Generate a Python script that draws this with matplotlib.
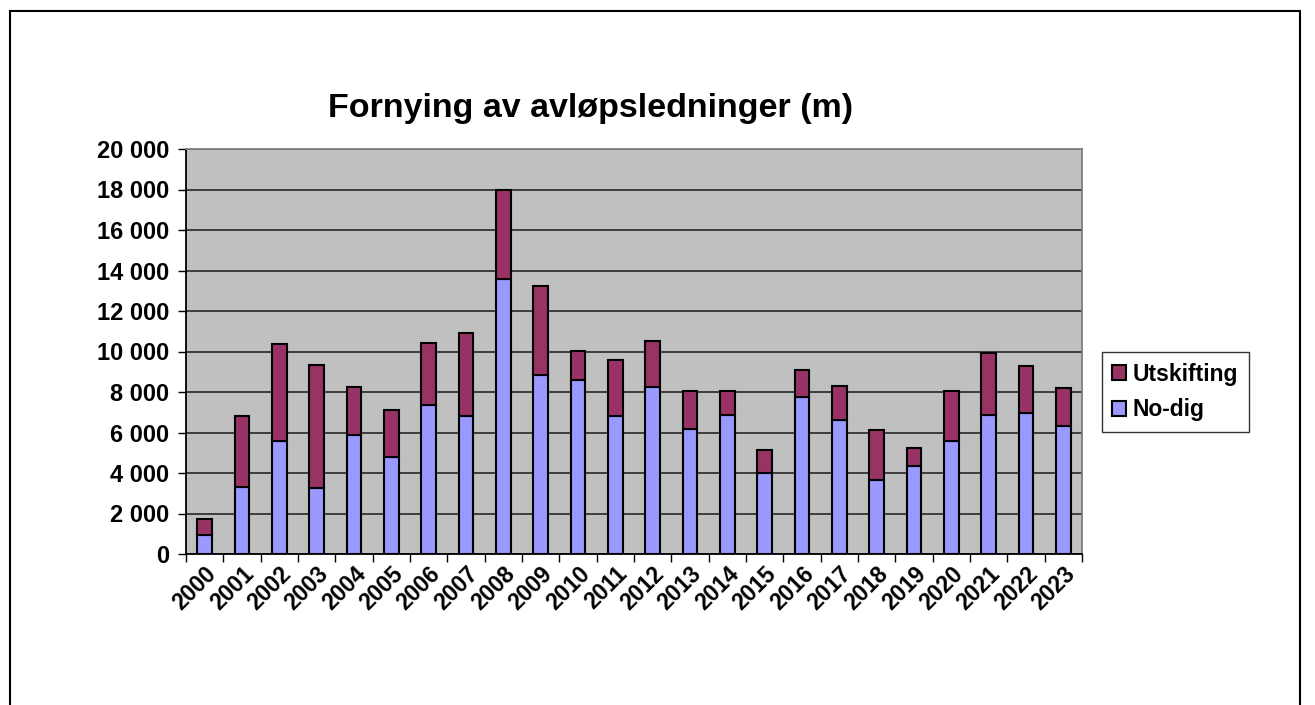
import matplotlib.pyplot as plt
import matplotlib.patches as patches
import numpy as np

# Data (metres)
years = [str(y) for y in range(2000, 2024)]
no_dig = [950, 3330, 5590, 3280, 5890, 4790, 7380, 6800, 13570, 8820, 8600, 6800,
          8250, 6160, 6850, 3980, 7740, 6640, 3640, 4330, 5590, 6850, 6970, 6340]
totals = [1720, 6800, 10390, 9340, 8250, 7100, 10440, 10900, 18000, 13210, 10030, 9570,
          10500, 8030, 8030, 5130, 9070, 8300, 6100, 5250, 8030, 9920, 9260, 8180]
utskifting = [t - n for t, n in zip(totals, no_dig)]

plt.rcParams['font.family'] = ['Liberation Sans', 'DejaVu Sans']

fig = plt.figure(figsize=(13.15, 7.05), dpi=100)
ax = fig.add_axes([186 / 1315, 151 / 705, 896 / 1315, 405 / 705])

x = np.arange(len(years))
ax.bar(x, no_dig, width=0.4, color='#9999FF', edgecolor='black', linewidth=1.5,
       label='No-dig', zorder=3)
ax.bar(x, utskifting, width=0.4, bottom=no_dig, color='#993366', edgecolor='black',
       linewidth=1.5, label='Utskifting', zorder=3)

ax.set_facecolor('#C0C0C0')
ax.set_xlim(-0.5, len(years) - 0.5)
ax.set_ylim(0, 20000)
ax.set_yticks(range(0, 20001, 2000))
ax.set_yticklabels([f'{v:,}'.replace(',', ' ') for v in range(0, 20001, 2000)],
                   fontsize=17, fontweight='bold')
ax.yaxis.grid(True, color='#333333', linewidth=1.3, zorder=1)

# ticks between categories, labels centred under bars
ax.set_xticks(np.arange(-0.5, len(years), 1.0))
ax.set_xticklabels([])
ax.set_xticks(x, minor=True)
ax.set_xticklabels(years, minor=True, rotation=45, ha='right', va='top',
                   rotation_mode='anchor', fontsize=16.5, fontweight='bold')
ax.tick_params(axis='x', which='minor', length=0, pad=6)
ax.tick_params(axis='x', which='major', length=6, width=1, direction='out')
ax.tick_params(axis='y', length=6, width=1, direction='out', pad=6)

for side in ['top', 'right']:
    ax.spines[side].set_color('#808080')
    ax.spines[side].set_linewidth(1.3)
for side in ['left', 'bottom']:
    ax.spines[side].set_color('black')
    ax.spines[side].set_linewidth(1.3)

fig.text(591 / 1315, 1 - 108 / 705, 'Fornying av avløpsledninger (m)',
         ha='center', va='center', fontsize=24.5, fontweight='bold')

handles, labels = ax.get_legend_handles_labels()
leg = fig.legend(handles[::-1], labels[::-1], loc='center left',
                 bbox_to_anchor=(1102 / 1315, 1 - 392 / 705),
                 prop={'size': 16.5, 'weight': 'bold'}, frameon=True, fancybox=False,
                 edgecolor='black', handlelength=0.6, handleheight=0.6,
                 handletextpad=0.3, labelspacing=0.55, borderpad=0.45,
                 borderaxespad=0)
leg.get_frame().set_linewidth(1)

# outer chart border
fig.patches.append(patches.Rectangle((10 / 1315, -0.02), 1290 / 1315, 1 - 11 / 705 + 0.02,
                                     transform=fig.transFigure, fill=False,
                                     edgecolor='black', linewidth=1.5))

fig.savefig('out.png', dpi=100)
